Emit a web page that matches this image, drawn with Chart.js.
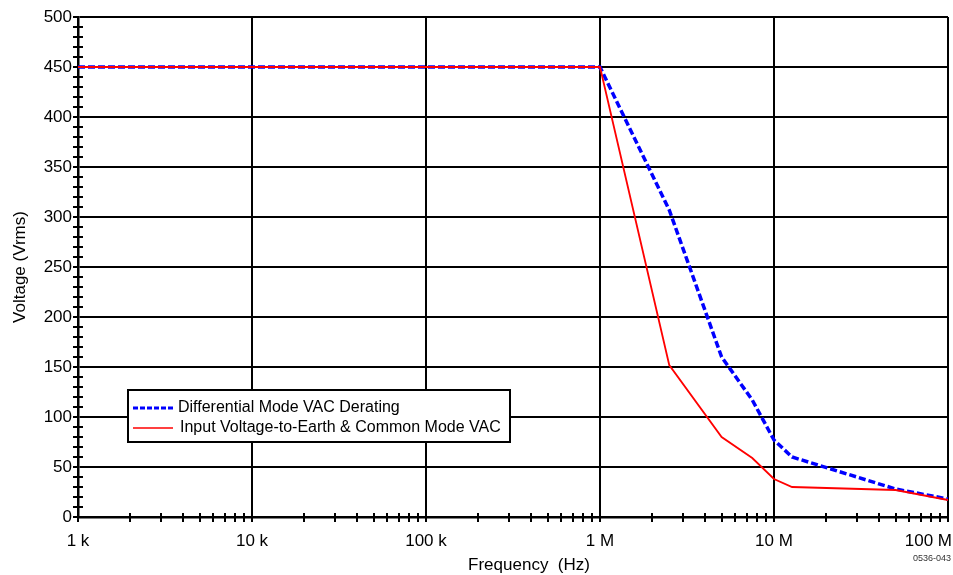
<!DOCTYPE html>
<html>
<head>
<meta charset="utf-8">
<script src="https://cdn.jsdelivr.net/npm/chart.js@4/dist/chart.umd.min.js"></script>
<style>
html,body{margin:0;padding:0;background:#fff;}
canvas{display:block;}
</style>
</head>
<body>
<canvas id="c" width="953" height="575"></canvas>
<script>
// ---- data ----
const diffFreq = [1e3, 1e6, 2.5e6, 5e6, 7.5e6, 1e7, 1.27e7, 5e7, 1e8];
const diffVolts = [450, 450, 307, 160, 117, 77, 60, 28, 18];
const commonFreq = [1e3, 1e6, 2.5e6, 5e6, 7.5e6, 1e7, 1.27e7, 5e7, 1e8];
const commonVolts = [450, 450, 152, 80, 59, 38, 30, 27, 17];
const xTickValues = [1e3, 1e4, 1e5, 1e6, 1e7, 1e8];
const xTickLabels = ["1 k", "10 k", "100 k", "1 M", "10 M", "100 M"];
const yTickValues = [0, 50, 100, 150, 200, 250, 300, 350, 400, 450, 500];
const seriesLabels = ["Differential Mode VAC Derating", "Input Voltage-to-Earth & Common Mode VAC"];
const xTitle = "Frequency  (Hz)";
const yTitle = "Voltage (Vrms)";
const FONT = '"Liberation Sans", Arial, sans-serif';

const toPts = (xs, ys) => xs.map((x, i) => ({x: x, y: ys[i]}));

const extras = {
  id: 'extras',
  afterDraw(chart) {
    const ctx = chart.ctx;
    const xs = chart.scales.x, ys = chart.scales.y;
    const a = chart.chartArea;
    const W = chart.width;
    ctx.save();
    ctx.strokeStyle = '#000';
    ctx.lineWidth = 2;
    ctx.beginPath();
    // x ticks (major + minor)
    for (let d = 1e3; d < 1e8; d *= 10) {
      for (let k = 1; k <= 9; k++) {
        const px = Math.round(xs.getPixelForValue(k * d));
        ctx.moveTo(px, a.bottom - (k === 1 ? 0 : 4));
        ctx.lineTo(px, a.bottom + 5);
      }
    }
    const pe = Math.round(xs.getPixelForValue(1e8));
    ctx.moveTo(pe, a.bottom); ctx.lineTo(pe, a.bottom + 5);
    // y ticks
    for (let v = 0; v <= 500; v += 10) {
      const py = Math.round(ys.getPixelForValue(v));
      ctx.moveTo(a.left - 5, py);
      ctx.lineTo(a.left + (v % 50 === 0 ? 0 : 5), py);
    }
    ctx.stroke();

    // x tick labels (kept inside the canvas)
    ctx.fillStyle = '#000';
    ctx.font = '17px ' + FONT;
    ctx.textBaseline = 'middle';
    ctx.textAlign = 'center';
    xTickValues.forEach((v, i) => {
      const px = xs.getPixelForValue(v);
      const w = ctx.measureText(xTickLabels[i]).width;
      const cx = Math.min(px, W - 1 - w / 2);
      ctx.fillText(xTickLabels[i], cx, a.bottom + 24);
    });
    // x title
    ctx.font = '17px ' + FONT;
    ctx.fillText(xTitle, (a.left + a.right) / 2 + 16, 565);

    // legend box
    const bx = 128, by = 390, bw = 382, bh = 52;
    ctx.fillStyle = '#fff';
    ctx.fillRect(bx, by, bw, bh);
    ctx.lineWidth = 2;
    ctx.strokeRect(bx, by, bw, bh);
    const ds = chart.data.datasets;
    const rows = [408, 428];
    ds.forEach((d, i) => {
      ctx.save();
      ctx.strokeStyle = d.borderColor;
      ctx.lineWidth = i === 0 ? 3 : 1.5;
      ctx.setLineDash(i === 0 ? [5, 2] : []);
      ctx.beginPath();
      ctx.moveTo(133, rows[i]);
      ctx.lineTo(173, rows[i]);
      ctx.stroke();
      ctx.restore();
      ctx.fillStyle = '#000';
      ctx.font = '16px ' + FONT;
      ctx.textBaseline = 'middle';
      ctx.textAlign = 'left';
      ctx.fillText(d.label, i === 0 ? 178 : 180, rows[i]);
    });
    // figure code
    ctx.fillStyle = '#333';
    ctx.font = '9px ' + FONT;
    ctx.textAlign = 'right';
    ctx.textBaseline = 'middle';
    ctx.fillText('0536-043', 951, 559);
    ctx.restore();
  }
};

new Chart(document.getElementById('c'), {
  type: 'scatter',
  data: {
    datasets: [
      {
        label: seriesLabels[0],
        data: toPts(diffFreq, diffVolts),
        showLine: true,
        borderColor: '#0000ff',
        backgroundColor: '#0000ff',
        borderWidth: 3.5,
        borderDash: [7, 3],
        pointRadius: 0,
        order: 2
      },
      {
        label: seriesLabels[1],
        data: toPts(commonFreq, commonVolts),
        showLine: true,
        borderColor: '#ff0000',
        backgroundColor: '#ff0000',
        borderWidth: 1.8,
        pointRadius: 0,
        order: 1
      }
    ]
  },
  options: {
    responsive: false,
    animation: false,
    devicePixelRatio: 1,
    layout: {padding: {top: 17, right: 5, left: 0, bottom: 0}},
    plugins: {legend: {display: false}, tooltip: {enabled: false}},
    scales: {
      x: {
        type: 'logarithmic',
        min: 1e3,
        max: 1e8,
        position: 'bottom',
        afterBuildTicks: s => { s.ticks = xTickValues.map(v => ({value: v})); },
        afterFit: s => { s.height = 58; s.paddingLeft = 0; s.paddingRight = 0; },
        grid: {color: '#000', lineWidth: 2, drawTicks: false},
        border: {display: true, color: '#000', width: 2.5},
        ticks: {display: false, autoSkip: false, maxRotation: 0},
        title: {display: false}
      },
      y: {
        type: 'linear',
        min: 0,
        max: 500,
        afterBuildTicks: s => { s.ticks = yTickValues.map(v => ({value: v})); },
        afterFit: s => { s.width = 78; s.paddingTop = 0; s.paddingBottom = 0; },
        grid: {color: '#000', lineWidth: 2, drawTicks: false},
        border: {display: true, color: '#000', width: 2.5},
        ticks: {
          padding: 6,
          color: '#000',
          font: {family: FONT, size: 17}
        },
        title: {display: true, text: yTitle, color: '#000', font: {family: FONT, size: 17}, padding: {top: 10, bottom: 0}}
      }
    }
  },
  plugins: [extras]
});
</script>
</body>
</html>
